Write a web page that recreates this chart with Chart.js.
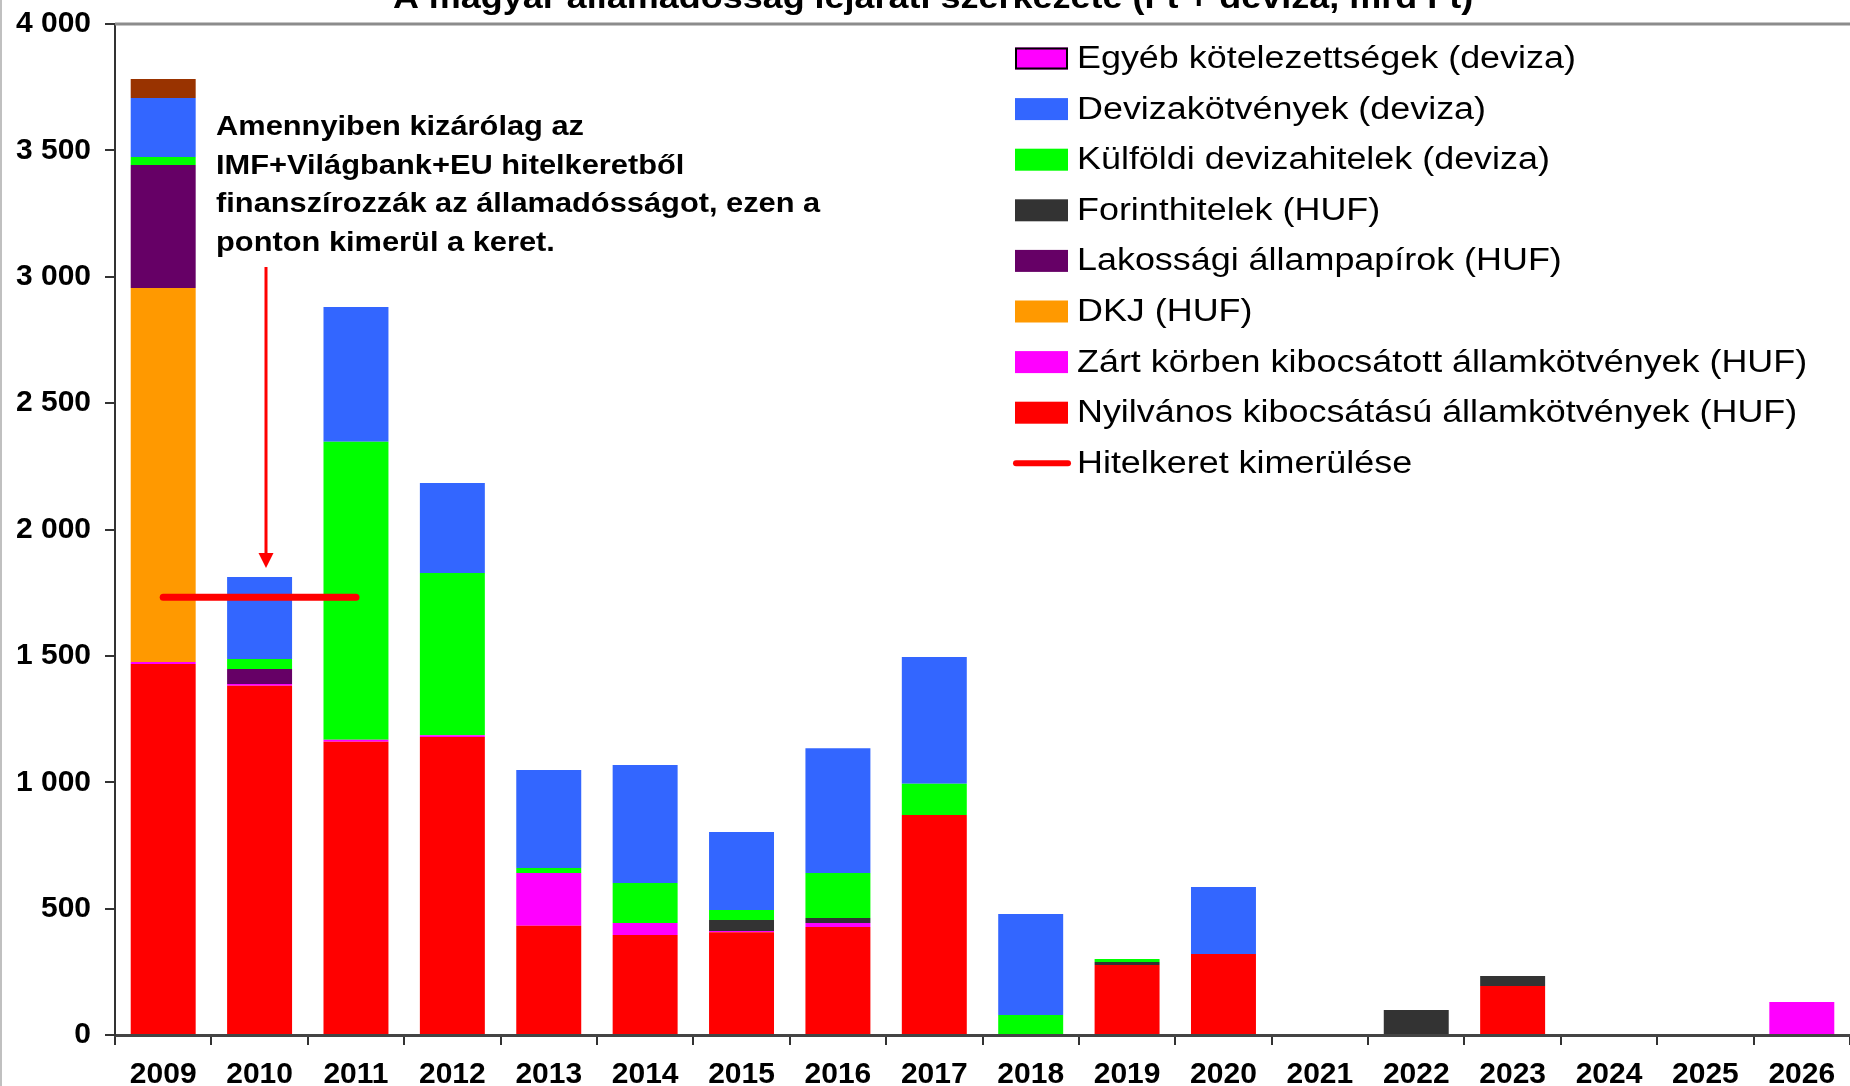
<!DOCTYPE html>
<html>
<head>
<meta charset="utf-8">
<script src="https://cdn.jsdelivr.net/npm/chart.js@4.4.1/dist/chart.umd.min.js"></script>
<style>
html,body{margin:0;padding:0;background:#fff;overflow:hidden;}
#wrap{position:absolute;left:0;top:0;width:1850px;height:1086px;}
</style>
</head>
<body>
<div id="wrap"><canvas id="c" width="1850" height="1086"></canvas></div>
<script>
const years = ['2009','2010','2011','2012','2013','2014','2015','2016','2017','2018','2019','2020','2021','2022','2023','2024','2025','2026'];
const nyilvanos = [1468,1382,1160,1179,432,396,407,427,870,0,277,320,0,0,194,0,0,0];
const zartKorben = [8,7,8,7,209,47,4,16,0,0,0,0,0,0,0,0,0,131];
const dkj = [1479,0,0,0,0,0,0,0,0,0,0,0,0,0,0,0,0,0];
const lakossagi = [487,59,0,0,0,0,0,0,0,0,0,0,0,0,0,0,0,0];
const forinthitelek = [0,0,0,0,0,0,44,20,0,0,12,0,0,99,39,0,0,0];
const kulfoldi = [32,40,1179,642,20,158,40,178,124,79,12,0,0,0,0,0,0,0];
const devizakotveny = [233,324,533,356,387,467,308,494,502,400,0,266,0,0,0,0,0,0];
const egyeb = [75,0,0,0,0,0,0,0,0,0,0,0,0,0,0,0,0,0];
const hitelkeret = [1732,1732,1732,null,null,null,null,null,null,null,null,null,null,null,null,null,null,null];
const yTicks = [0,500,1000,1500,2000,2500,3000,3500,4000];
const titleText = 'A magyar államadósság lejárati szerkezete (Ft + deviza, mrd Ft)';
const noteLines = ['Amennyiben kizárólag az','IMF+Világbank+EU hitelkeretből','finanszírozzák az államadósságot, ezen a','ponton kimerül a keret.'];

const FF = '"Liberation Sans", Arial, Helvetica, sans-serif';

function bar(label, data, color, extra) {
  return Object.assign({type:'bar', label, data, backgroundColor: color, borderWidth:0, order:1,
    barPercentage:0.674, categoryPercentage:1.0}, extra||{});
}

const datasets = [
  bar('Nyilvános kibocsátású államkötvények (HUF)', nyilvanos, '#FF0000'),
  bar('Zárt körben kibocsátott államkötvények (HUF)', zartKorben, '#FF00FF'),
  bar('DKJ (HUF)', dkj, '#FF9900'),
  bar('Lakossági állampapírok (HUF)', lakossagi, '#660066'),
  bar('Forinthitelek (HUF)', forinthitelek, '#333333'),
  bar('Külföldi devizahitelek (deviza)', kulfoldi, '#00FF00'),
  bar('Devizakötvények (deviza)', devizakotveny, '#3366FF'),
  bar('Egyéb kötelezettségek (deviza)', egyeb, years.map((y,i)=> i===0 ? '#993300' : '#FF00FF'), {legendColor:'#FF00FF', legendBorder:'#000000'}),
  {type:'line', label:'Hitelkeret kimerülése', data: hitelkeret, borderColor:'#FF0000', borderWidth:7,
   borderCapStyle:'round', pointRadius:0, fill:false, order:0, spanGaps:false}
];

function stretchText(ctx, text, x, y, sx) {
  ctx.save();
  ctx.translate(x, y);
  ctx.scale(sx, 1);
  ctx.fillText(text, 0, 0);
  ctx.restore();
}

const decor = {
  id:'decor',
  beforeDatasetsDraw(chart){
    const ctx = chart.ctx, a = chart.chartArea;
    ctx.save();
    ctx.strokeStyle = '#8c8c8c'; ctx.lineWidth = 3;
    ctx.beginPath(); ctx.moveTo(a.left, a.top); ctx.lineTo(chart.width, a.top); ctx.stroke();
    ctx.strokeStyle = '#c0c0c0'; ctx.lineWidth = 2;
    ctx.beginPath(); ctx.moveTo(1, 0); ctx.lineTo(1, chart.height); ctx.stroke();
    ctx.restore();
  },
  afterDraw(chart){
    const ctx = chart.ctx;
    ctx.save();
    ctx.fillStyle = '#000';
    ctx.font = 'bold 31px ' + FF;
    ctx.textAlign = 'center'; ctx.textBaseline = 'alphabetic';
    stretchText(ctx, titleText, 933, 8, 1.16);
    ctx.font = 'bold 28px ' + FF;
    ctx.textAlign = 'left';
    const base = [135, 174, 212, 251];
    noteLines.forEach((t,i)=> stretchText(ctx, t, 216, base[i], 1.10));
    const ax = 266, y0 = 267, yTip = 568;
    ctx.strokeStyle = '#FF0000'; ctx.fillStyle = '#FF0000'; ctx.lineWidth = 3;
    ctx.beginPath(); ctx.moveTo(ax, y0); ctx.lineTo(ax, yTip - 12); ctx.stroke();
    ctx.beginPath(); ctx.moveTo(ax - 7.5, yTip - 15); ctx.lineTo(ax + 7.5, yTip - 15); ctx.lineTo(ax, yTip); ctx.closePath(); ctx.fill();
    const items = chart.data.datasets.map((d,i)=>({d,i})).filter(o=>o.d.type==='bar').reverse();
    items.push({d: chart.data.datasets[chart.data.datasets.length-1]});
    ctx.font = '31px ' + FF;
    ctx.textBaseline = 'middle';
    items.forEach((o, k) => {
      const cy = 58.5 + k * 50.6;
      const d = o.d;
      if (d.type === 'line') {
        ctx.strokeStyle = d.borderColor; ctx.lineWidth = 6; ctx.lineCap = 'round';
        ctx.beginPath(); ctx.moveTo(1016, cy); ctx.lineTo(1068, cy); ctx.stroke();
      } else {
        const col = d.legendColor || d.backgroundColor;
        ctx.fillStyle = col;
        ctx.fillRect(1015, cy - 11, 53, 22);
        if (d.legendBorder) {
          ctx.strokeStyle = d.legendBorder; ctx.lineWidth = 2;
          ctx.strokeRect(1016, cy - 10, 51, 20);
        }
      }
      ctx.fillStyle = '#000';
      stretchText(ctx, d.label, 1077, cy + 1, 1.158);
    });
    ctx.restore();
  }
};

new Chart(document.getElementById('c'), {
  data: { labels: years, datasets },
  options: {
    responsive:false, animation:false,
    layout:{ padding:{ top:24, right:0, left:0, bottom:0 } },
    plugins:{ legend:{display:false}, tooltip:{enabled:false}, title:{display:false} },
    scales:{
      x:{
        stacked:true,
        grid:{ display:true, drawOnChartArea:false, drawTicks:true, tickLength:10, color:'#333', lineWidth:2, offset:true },
        border:{ display:true, color:'#444', width:3 },
        ticks:{ font:{ family:FF, size:30, weight:'bold' }, color:'#000', padding:12, maxRotation:0, autoSkip:false },
        afterFit(s){ s.height = 51; s.paddingLeft = 0; s.paddingRight = 0; }
      },
      y:{
        stacked:true, min:0, max:4000,
        afterBuildTicks(s){ s.ticks = yTicks.map(v=>({value:v})); },
        grid:{ display:true, drawOnChartArea:false, drawTicks:true, tickLength:10, color:'#333', lineWidth:2 },
        border:{ display:true, color:'#333', width:2 },
        ticks:{ font:{ family:FF, size:30, weight:'bold' }, color:'#000', padding:14,
          callback:(v)=> String(v).replace(/\B(?=(\d{3})+(?!\d))/g,' ') },
        afterFit(s){ s.width = 115; s.paddingTop = 0; s.paddingBottom = 0; }
      }
    }
  },
  plugins:[decor]
});
</script>
</body>
</html>
